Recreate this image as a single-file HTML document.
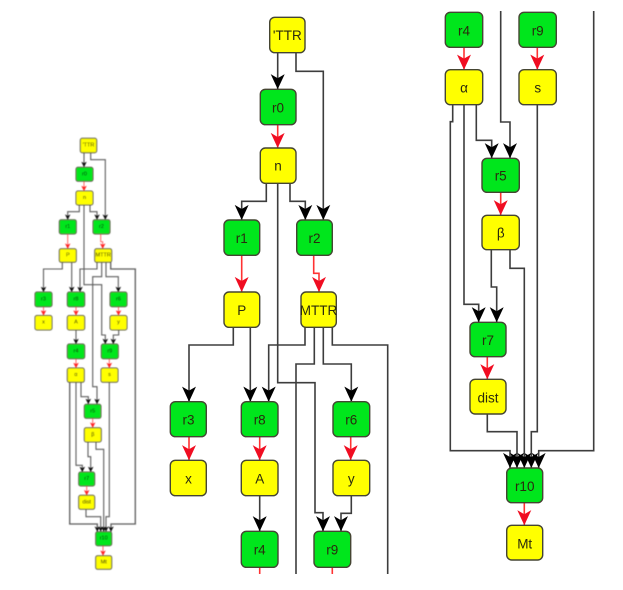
<!DOCTYPE html>
<html>
<head>
<meta charset="utf-8">
<style>
html,body{margin:0;padding:0;background:#fff;width:623px;height:590px;overflow:hidden}
svg{display:block}
text{font-family:"Liberation Sans",sans-serif;text-anchor:middle;dominant-baseline:central;fill:#2a2a10}
.big path{fill:none;stroke:#3c3c3c;stroke-width:1.6}
.big path.r{stroke:#f33;marker-end:url(#rb)}
.big path.k{marker-end:url(#kb)}
.big path.n{marker-end:none}
.big path.s{stroke:#f33;marker-end:none}
.big rect{stroke:#443;stroke-width:1.4}
.big text{font-size:13.5px}
.small path{fill:none;stroke:#5c5c5c;stroke-width:1.1}
.small path.r{stroke:#f55;stroke-width:.9;marker-end:url(#rs)}
.small path.k{marker-end:url(#ks)}
.small rect{stroke:#554;stroke-width:1}
.small text{font-size:5.5px;fill:#111}
.g{fill:#00e61a}
.y{fill:#ffff00}
</style>
</head>
<body>
<svg width="623" height="590" viewBox="0 0 623 590" xmlns="http://www.w3.org/2000/svg">
<defs>
<marker id="kb" markerUnits="userSpaceOnUse" markerWidth="14" markerHeight="16.3" refX="6" refY="13.5" viewBox="0 0 12 14"><path d="M0 0.5 L6 4 L12 0.5 L6 13.5 Z" fill="#000" stroke="none"/></marker>
<marker id="rb" markerUnits="userSpaceOnUse" markerWidth="14" markerHeight="16.3" refX="6" refY="13.5" viewBox="0 0 12 14"><path d="M0 0.5 L6 4 L12 0.5 L6 13.5 Z" fill="#f01020" stroke="none"/></marker>
<marker id="ks" markerUnits="userSpaceOnUse" markerWidth="5.5" markerHeight="5.5" refX="2.5" refY="4.8" viewBox="0 0 5 5"><path d="M0 0 L2.5 1.2 L5 0 L2.5 5 Z" fill="#111" stroke="none"/></marker>
<marker id="rs" markerUnits="userSpaceOnUse" markerWidth="5.5" markerHeight="5.5" refX="2.5" refY="4.8" viewBox="0 0 5 5"><path d="M0 0 L2.5 1.2 L5 0 L2.5 5 Z" fill="#f22" stroke="none"/></marker>
<filter id="b1" x="-5%" y="-5%" width="110%" height="110%"><feGaussianBlur stdDeviation="0.3"/></filter>
<filter id="b2" x="-5%" y="-5%" width="110%" height="110%"><feGaussianBlur stdDeviation="0.45"/></filter>
</defs>

<!-- Left overview -->
<g class="small" filter="url(#b2)">
<path class="k" d="M84 152.7V167"/>
<path class="k" d="M90.7 152.7V159.7H105.3V219.7"/>
<path class="r" d="M84 181.3V191"/>
<path class="k" d="M79.3 205V211.7H67.7V219.7"/>
<path class="k" d="M90 205V211.7H97V219.7"/>
<path class="k" d="M84 205V284.7H101.7V335H105.3V344"/>
<path class="r" d="M67.7 234V248.7"/>
<path class="r" d="M100.7 234V241.7H102.7V248.7"/>
<path class="k" d="M62.3 262.3V269H43.5V292"/>
<path class="k" d="M71.7 262.3V292"/>
<path class="k" d="M97 262.3V269H80V292"/>
<path class="k" d="M101.7 262.3V276.7H92.7V386.7H97V404"/>
<path class="k" d="M106 262.3V276.7H118.3V292"/>
<path class="k" style="stroke-width:1.3" d="M110.7 262.3V269H135.3V524H111V531.7"/>
<path class="r" d="M43.5 306.7V315.5"/>
<path class="r" d="M76 306.7V315.5"/>
<path class="r" d="M118.5 306.7V315.5"/>
<path class="k" d="M76 330V344"/>
<path class="k" d="M118.7 330V335H113.3V344"/>
<path class="r" d="M76 358.7V368"/>
<path class="r" d="M109.3 358.7V368"/>
<path class="k" d="M81 382.3V396.7H88.3V404"/>
<path class="k" style="stroke-width:1.3" d="M69.7 382.3V524H97.3V531.7"/>
<path class="k" d="M76 382.3V465.3H82.3V472"/>
<path class="k" d="M109.3 382.3V516.7H106V531.7"/>
<path class="r" d="M92.7 418.3V427.7"/>
<path class="k" d="M88 442V456.7H90.7V472"/>
<path class="k" d="M96 442V449.3H103.7V531.7"/>
<path class="r" d="M86.7 486V495.3"/>
<path class="k" d="M86 509.3V516.7H100.7V531.7"/>
<path class="r" d="M103 545.7V555.7"/>
<rect class="y" x="80.3" y="138.3" width="16.4" height="14.4" rx="2"/><text x="88.5" y="145.5">'TTR</text>
<rect class="g" x="76" y="167.3" width="17" height="14" rx="2"/><text x="84.5" y="174.3">r0</text>
<rect class="y" x="76" y="191" width="17" height="14" rx="2"/><text x="84.5" y="198">n</text>
<rect class="g" x="59.3" y="219.7" width="17" height="14.3" rx="2"/><text x="67.8" y="227">r1</text>
<rect class="g" x="93" y="219.7" width="17" height="14.3" rx="2"/><text x="101.5" y="227">r2</text>
<rect class="y" x="59.3" y="248.7" width="17" height="13.6" rx="2"/><text x="67.8" y="255.5">P</text>
<rect class="y" x="94.7" y="248.7" width="17" height="13.6" rx="2"/><text x="103.2" y="255.5">MTTR</text>
<rect class="g" x="35" y="292" width="17" height="14.7" rx="2"/><text x="43.5" y="299.3">r3</text>
<rect class="g" x="67.3" y="292" width="17.4" height="14.7" rx="2"/><text x="76" y="299.3">r8</text>
<rect class="g" x="110" y="292" width="17" height="14.7" rx="2"/><text x="118.5" y="299.3">r6</text>
<rect class="y" x="35" y="315.5" width="17" height="14.5" rx="2"/><text x="43.5" y="322.7">x</text>
<rect class="y" x="67.3" y="315.5" width="17.4" height="14.5" rx="2"/><text x="76" y="322.7">A</text>
<rect class="y" x="110" y="315.5" width="17" height="14.5" rx="2"/><text x="118.5" y="322.7">y</text>
<rect class="g" x="67.3" y="344" width="17.4" height="14.7" rx="2"/><text x="76" y="351.3">r4</text>
<rect class="g" x="101.3" y="344" width="17" height="14.7" rx="2"/><text x="109.8" y="351.3">r9</text>
<rect class="y" x="67.3" y="368" width="17" height="14.3" rx="2"/><text x="75.8" y="375">α</text>
<rect class="y" x="101" y="368" width="17" height="14.3" rx="2"/><text x="109.5" y="375">s</text>
<rect class="g" x="84.3" y="404.3" width="16.7" height="14" rx="2"/><text x="92.7" y="411.3">r5</text>
<rect class="y" x="84.3" y="427.7" width="17" height="14.3" rx="2"/><text x="92.8" y="434.8">β</text>
<rect class="g" x="78.7" y="472" width="16" height="14" rx="2"/><text x="86.7" y="479">r7</text>
<rect class="y" x="78.7" y="495.3" width="16" height="14" rx="2"/><text x="86.7" y="502.3">dist</text>
<rect class="g" x="95.7" y="531.7" width="16" height="14" rx="2"/><text x="103.7" y="538.7">r10</text>
<rect class="y" x="95.7" y="555.7" width="16" height="13.6" rx="2"/><text x="103.7" y="562.5">Mt</text>
</g>

<!-- Middle panel -->
<g class="big" filter="url(#b1)">
<path class="k" d="M277.7 52.7V89.3"/>
<path class="k" d="M296 52.7V71.3H323.3V220"/>
<path class="r" d="M277.7 124.7V148"/>
<path class="k" d="M266.3 183.3V201.3H241.7V220"/>
<path class="k" d="M290 183.3V201.3H305.3V220"/>
<path class="k" d="M277.7 183.3V382.7H315V512.7H323V531.3"/>
<path class="r" d="M241.7 255.3V292"/>
<path class="r" d="M313.7 255.3V273.3H319V292"/>
<path class="k" d="M233.3 327.3V345H189V401.7"/>
<path class="k" d="M250.3 327.3V401.7"/>
<path class="k" d="M305 327.3V345H268.7V401.7"/>
<path class="n" d="M314.3 327.3V364H296V574"/>
<path class="k" d="M323.3 327.3V364H351.3V401.7"/>
<path class="n" d="M332.3 327.3V345H387.7V574"/>
<path class="r" d="M189 436.7V460.3"/>
<path class="r" d="M259.7 436.7V460.3"/>
<path class="r" d="M350.7 436.7V460.3"/>
<path class="k" d="M259.7 495.7V531.3"/>
<path class="k" d="M351.3 495.7V513.3H341V531.3"/>
<path class="s" d="M259.7 567.3V574"/>
<path class="s" d="M332.3 567.3V574"/>
<rect class="y" x="269.7" y="17.3" width="35.3" height="35.4" rx="5"/><text x="287.3" y="35.5">'TTR</text>
<rect class="g" x="260.3" y="89.3" width="35.7" height="35.4" rx="5"/><text x="278" y="108">r0</text>
<rect class="y" x="260.3" y="148" width="35.7" height="35.3" rx="5"/><text x="278" y="166">n</text>
<rect class="g" x="224" y="220" width="35.7" height="35.3" rx="5"/><text x="241.8" y="238.5">r1</text>
<rect class="g" x="296.7" y="220" width="35.6" height="35.3" rx="5"/><text x="314.5" y="238.5">r2</text>
<rect class="y" x="224" y="292" width="35.7" height="35.3" rx="5"/><text x="241.8" y="310.5">P</text>
<rect class="y" x="301" y="292" width="35.3" height="35.3" rx="5"/><text x="318.5" y="310.5">MTTR</text>
<rect class="g" x="170.3" y="401.7" width="36" height="35" rx="5"/><text x="188.5" y="420">r3</text>
<rect class="g" x="241.3" y="401.7" width="36.7" height="35" rx="5"/><text x="259.7" y="420">r8</text>
<rect class="g" x="333" y="401.7" width="36.7" height="35" rx="5"/><text x="351.3" y="420">r6</text>
<rect class="y" x="170.3" y="460.3" width="36" height="35.4" rx="5"/><text x="188.5" y="479">x</text>
<rect class="y" x="241.3" y="460.3" width="36.7" height="35.4" rx="5"/><text x="259.7" y="479">A</text>
<rect class="y" x="333" y="460.3" width="36.7" height="35.4" rx="5"/><text x="351.3" y="479">y</text>
<rect class="g" x="241.3" y="531.3" width="36.7" height="36" rx="5"/><text x="259.7" y="550">r4</text>
<rect class="g" x="314" y="531.3" width="36.7" height="36" rx="5"/><text x="332.3" y="550">r9</text>
</g>

<!-- Right panel -->
<g class="big" filter="url(#b1)">
<path class="r" d="M464 47.3V69.7"/>
<path class="r" d="M537.3 47.3V69.7"/>
<path class="k" d="M500.7 11V122H510V158.3"/>
<path class="k" d="M476.3 104.7V140.3H491.7V158.3"/>
<path class="k" d="M452.7 104.7V121.7H450.3V450.7H510V468"/>
<path class="k" d="M464 104.7V304.3H478.7V322.3"/>
<path class="k" d="M537.3 104.7V431.7H531.3V468"/>
<path class="r" d="M500.7 192.3V215.3"/>
<path class="k" d="M491.3 249.7V287H496.7V322.3"/>
<path class="k" d="M510 249.7V268.3H524.3V468"/>
<path class="k" d="M593.7 11V450.7H538.7V468"/>
<path class="r" d="M487.3 356.7V379.3"/>
<path class="k" d="M487.3 414V431.7H517V468"/>
<path class="r" d="M524.3 502.7V525.3"/>
<rect class="g" x="445.3" y="12.3" width="37.4" height="35" rx="5"/><text x="464" y="31">r4</text>
<rect class="g" x="519" y="12.3" width="37.3" height="35" rx="5"/><text x="537.7" y="31">r9</text>
<rect class="y" x="445.3" y="69.7" width="37.4" height="35" rx="5"/><text x="464" y="88">α</text>
<rect class="y" x="519" y="69.7" width="37.3" height="35" rx="5"/><text x="537.7" y="88">s</text>
<rect class="g" x="482" y="158.3" width="37.3" height="34" rx="5"/><text x="500.7" y="176">r5</text>
<rect class="y" x="482" y="215.3" width="37.3" height="34.4" rx="5"/><text x="500.7" y="233">β</text>
<rect class="g" x="470" y="322.3" width="36" height="34.4" rx="5"/><text x="488" y="340.5">r7</text>
<rect class="y" x="470" y="379.3" width="36" height="34.7" rx="5"/><text x="488" y="398">dist</text>
<rect class="g" x="506.7" y="468" width="36" height="34.7" rx="5"/><text x="524.7" y="486.5">r10</text>
<rect class="y" x="506.7" y="525.3" width="36" height="34.7" rx="5"/><text x="524.7" y="544">Mt</text>
</g>
</svg>
</body>
</html>
